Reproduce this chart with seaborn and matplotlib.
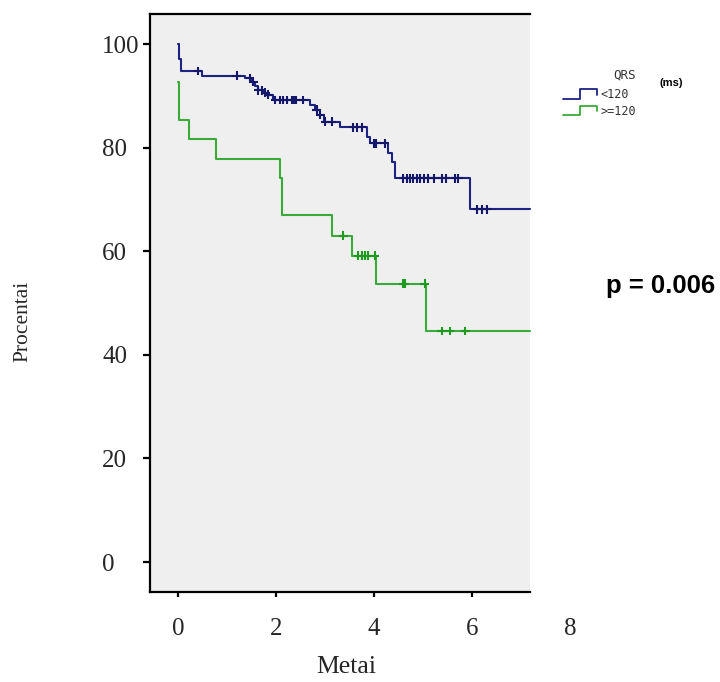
import numpy as np
import pandas as pd
import matplotlib
matplotlib.use("Agg")
import matplotlib.pyplot as plt
import seaborn as sns
from matplotlib.lines import Line2D
from matplotlib.legend_handler import HandlerBase
from matplotlib.font_manager import FontProperties, fontManager

# ---------------- data ----------------
group_labels = ["<120", ">=120"]

blue_times = [0, 0.02, 0.06, 0.48, 1.37, 1.50, 1.57, 1.64, 1.74, 1.84, 1.93,
              2.69, 2.80, 2.90, 2.97, 3.31, 3.85, 3.92, 4.29, 4.36, 4.43, 5.96]
blue_surv = [100, 97.2, 94.8, 93.9, 93.4, 92.7, 91.9, 91.1, 90.6, 90.2, 89.2,
             88.2, 87.3, 86.3, 85.0, 83.9, 82.1, 80.8, 79.0, 77.3, 74.1, 68.1]
blue_censored = [0.41, 1.20, 1.47, 1.54, 1.64, 1.71, 1.78, 1.84, 1.98, 2.08,
                 2.15, 2.22, 2.32, 2.37, 2.41, 2.56, 2.83, 2.90, 3.00, 3.14,
                 3.58, 3.65, 3.75, 3.99, 4.05, 4.22, 4.60, 4.67, 4.73, 4.80,
                 4.87, 4.94, 5.01, 5.11, 5.22, 5.39, 5.46, 5.65, 5.72, 6.10,
                 6.20, 6.31]

green_times = [0, 0.02, 0.23, 0.78, 2.08, 2.13, 3.14, 3.56, 4.05, 5.07]
green_surv = [92.7, 85.4, 81.6, 77.8, 74.1, 66.9, 63.0, 59.1, 53.7, 44.6]
green_censored = [3.37, 3.68, 3.75, 3.82, 3.88, 4.02, 4.60, 4.63, 5.03,
                  5.38, 5.54, 5.86]

follow_up_end = 7.18
x_ticks = [0, 2, 4, 6, 8]
y_ticks = [0, 20, 40, 60, 80, 100]
p_text = "p = 0.006"

# ---------------- build tables ----------------
def curve_frame(times, surv, label):
    t = list(times) + [follow_up_end]
    s = list(surv) + [surv[-1]]
    return pd.DataFrame({"t": t, "s": s, "group": label})

def censor_frame(times, surv, cens, label):
    idx = np.searchsorted(np.asarray(times), np.asarray(cens), side="right") - 1
    return pd.DataFrame({"t": cens, "s": np.asarray(surv)[idx], "group": label})

curves = pd.concat([curve_frame(blue_times, blue_surv, group_labels[0]),
                    curve_frame(green_times, green_surv, group_labels[1])],
                   ignore_index=True)
cens = pd.concat([censor_frame(blue_times, blue_surv, blue_censored, group_labels[0]),
                  censor_frame(green_times, green_surv, green_censored, group_labels[1])],
                 ignore_index=True)

line_colors = {group_labels[0]: "#1e2280", group_labels[1]: "#3aaa3a"}
mark_colors = {group_labels[0]: "#15186a", group_labels[1]: "#1e9a1e"}


# pick the regular-width (not Narrow) Liberation Sans Bold file
def sans_bold(size):
    for f in fontManager.ttflist:
        if (f.name == "Liberation Sans" and "Narrow" not in f.fname
                and f.weight in (700, "bold") and f.style == "normal"):
            return FontProperties(fname=f.fname, size=size)
    return FontProperties(family="DejaVu Sans", weight="bold", size=size)


# ---------------- figure ----------------
sns.set_style("white")
plt.rcParams["font.family"] = ["Liberation Serif", "DejaVu Serif"]

W, H = 720, 682
fig = plt.figure(figsize=(W / 100, H / 100), dpi=100)
ax = fig.add_axes([150 / W, 90 / H, (575 - 150) / W, (592 - 14) / H])
ax.set_facecolor("none")

xmin, xmax = -0.571, 8.10
ax.set_xlim(xmin, xmax)
ax.set_ylim(-5.79, 105.8)
ax.axvspan(xmin, follow_up_end, facecolor="#efefef", edgecolor="none", zorder=0)

sns.lineplot(data=curves, x="t", y="s", hue="group", palette=line_colors,
             drawstyle="steps-post", estimator=None, sort=False, units="group",
             linewidth=1.5, legend=False, ax=ax, zorder=3)
sns.scatterplot(data=cens, x="t", y="s", hue="group", palette=mark_colors,
                marker="+", s=40, linewidth=1.5, legend=False, ax=ax, zorder=4)

# spines
for side in ["left", "top", "bottom"]:
    ax.spines[side].set_visible(True)
    ax.spines[side].set_color("black")
    ax.spines[side].set_linewidth(1.6)
ax.spines["right"].set_visible(False)
ax.spines["top"].set_bounds(xmin, follow_up_end)
ax.spines["bottom"].set_bounds(xmin, follow_up_end)

ax.set_xticks(x_ticks)
ax.set_yticks(y_ticks)
ax.set_xticklabels([str(v) for v in x_ticks])
ax.set_yticklabels([str(v) for v in y_ticks])
ax.tick_params(axis="y", direction="out", length=5, width=1.6, color="black",
               labelsize=18, pad=29.5, left=True)
ax.tick_params(axis="x", direction="out", length=3.5, width=1.6, color="black",
               labelsize=18, pad=15.5, bottom=True)
for lbl in ax.get_yticklabels():
    lbl.set_horizontalalignment("left")
ax.xaxis.get_major_ticks()[-1].tick1line.set_visible(False)

ax.set_xlabel("Metai", fontsize=18.5)
ax.set_ylabel("Procentai", fontsize=15.5)
ax.xaxis.set_label_coords((346 - 150) / (575 - 150), -(667 - 592) / (592 - 14))
ax.yaxis.set_label_coords(-(150 - 23) / (575 - 150), (592 - 321) / (592 - 14))
ax.xaxis.label.set_verticalalignment("center")
ax.yaxis.label.set_verticalalignment("center")


# ---------------- legend with step icons ----------------
class StepHandler(HandlerBase):
    def create_artists(self, legend, orig_handle, xdescent, ydescent,
                       width, height, fontsize, trans):
        x0, y0 = -xdescent, -ydescent
        xm = x0 + 0.5 * width
        xs = [x0, xm, xm, x0 + width, x0 + width]
        ys = [y0, y0, y0 + height, y0 + height, y0 + 0.4 * height]
        ln = Line2D(xs, ys, color=orig_handle.get_color(), lw=1.3)
        ln.set_transform(trans)
        return [ln]


mono = FontProperties(family="DejaVu Sans Mono", size=8.5)
handles = [Line2D([], [], color=line_colors[g]) for g in group_labels]
leg = fig.legend(handles, group_labels, loc="upper left",
                 bbox_to_anchor=(563 / W, 1 - 88 / H), frameon=False,
                 handler_map={Line2D: StepHandler()}, prop=mono,
                 handlelength=2.9, handleheight=0.85, handletextpad=0.25,
                 labelspacing=0.3, borderpad=0, borderaxespad=0)
for t in leg.get_texts():
    t.set_color("#333333")

fig.text(624 / W, 1 - 75 / H, "QRS", ha="center", va="center",
         fontproperties=FontProperties(family="DejaVu Sans Mono", size=9),
         color="#333333")
fig.text(671 / W, 1 - 83 / H, "(ms)", ha="center", va="center",
         fontproperties=sans_bold(8), color="black")
fig.text(661 / W, 1 - 286 / H, p_text, ha="center", va="center",
         fontproperties=sans_bold(18.5), color="black")

fig.savefig("out.png", dpi=100)
